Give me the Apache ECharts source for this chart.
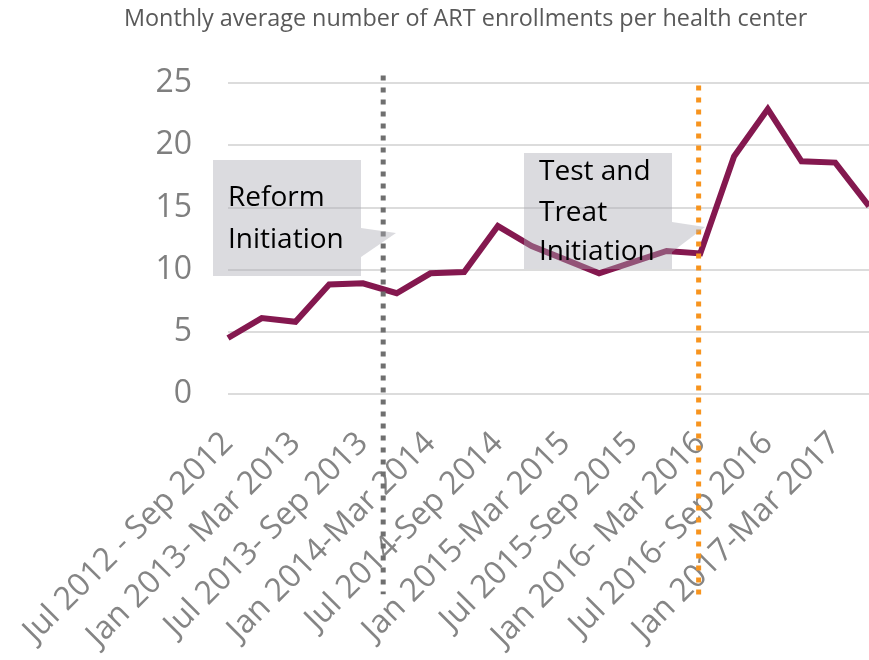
<!DOCTYPE html>
<html>
<head>
<meta charset="utf-8">
<script src="https://cdn.jsdelivr.net/npm/echarts@6/dist/echarts.min.js"></script>
<style>
  html, body { margin: 0; padding: 0; background: #fff; }
  #chart { width: 869px; height: 660px; }
</style>
</head>
<body>
<div id="chart"></div>
<script>
// quarterly periods, only every other one is labelled on the axis
const quarters = [
  'Jul 2012 - Sep 2012', 'Oct 2012 - Dec 2012',
  'Jan 2013- Mar 2013', 'Apr 2013 - Jun 2013',
  'Jul 2013- Sep 2013', 'Oct 2013 - Dec 2013',
  'Jan 2014-Mar 2014', 'Apr 2014 - Jun 2014',
  'Jul 2014-Sep 2014', 'Oct 2014 - Dec 2014',
  'Jan 2015-Mar 2015', 'Apr 2015 - Jun 2015',
  'Jul 2015-Sep 2015', 'Oct 2015 - Dec 2015',
  'Jan 2016- Mar 2016', 'Apr 2016 - Jun 2016',
  'Jul 2016- Sep 2016', 'Oct 2016 - Dec 2016',
  'Jan 2017-Mar 2017', 'Apr 2017 - Jun 2017'
]
const enrollments = [4.5, 6.1, 5.8, 8.8, 8.9, 8.1, 9.7, 9.8, 13.5, 11.9,
  10.8, 9.7, 10.6, 11.5, 11.3, 19.1, 22.9, 18.7, 18.6, 15.1]
const yTicks = { min: 0, max: 25, interval: 5 }

// event markers: position in quarter units, and the vertical span of the dotted line
const reformAt = 4.6
const reformSpan = [25.6, -16.1]
const testTreatAt = 13.95
const testTreatSpan = [24.8, -16.5]

const FONT = '"Open Sans", "Noto Sans", sans-serif'

const chart = echarts.init(document.getElementById('chart'))

// grey callout box with a small pointer on its right side
const callout = (x, y, w, h, tip, lines, lineY) => {
  const els = [{
    type: 'polygon',
    z: 100,
    silent: true,
    shape: {
      points: [
        [x, y], [x + w, y], [x + w, tip[1]], [tip[0], tip[2]],
        [x + w, tip[3]], [x + w, y + h], [x, y + h]
      ]
    },
    style: { fill: 'rgba(170, 170, 178, 0.42)' }
  }]
  lines.forEach((t, i) => {
    els.push({
      type: 'text',
      z: 101,
      silent: true,
      x: x + 15,
      y: lineY[i],
      style: {
        text: t,
        font: '28px ' + FONT,
        fill: '#000',
        verticalAlign: 'middle'
      }
    })
  })
  return els
}

const option = {
  animation: false,
  title: {
    text: 'Monthly average number of ART enrollments per health center',
    left: 119,
    top: 3,
    textStyle: {
      fontFamily: FONT,
      fontSize: 23.4,
      fontWeight: 'normal',
      color: '#595959'
    }
  },
  grid: {
    left: 228,
    right: 0,
    top: 83,
    bottom: 266
  },
  xAxis: [{
    type: 'category',
    data: quarters,
    boundaryGap: false,
    axisLine: { show: false },
    axisTick: { show: false },
    axisLabel: {
      interval: 1,
      rotate: 45,
      margin: 44,
      color: '#858585',
      fontFamily: FONT,
      fontSize: 32
    }
  }, {
    type: 'value',
    min: 0,
    max: quarters.length - 1,
    show: false
  }],
  yAxis: {
    type: 'value',
    min: yTicks.min,
    max: yTicks.max,
    interval: yTicks.interval,
    axisLine: { show: false },
    axisTick: { show: false },
    axisLabel: {
      margin: 36,
      color: '#7f7f7f',
      fontFamily: FONT,
      fontSize: 32
    },
    splitLine: { lineStyle: { color: '#dcdcdc', width: 2 } }
  },
  series: [{
    name: 'ART enrollments',
    type: 'line',
    data: enrollments,
    symbol: 'none',
    lineStyle: { color: '#84184f', width: 6, join: 'miter' },
    z: 3
  }, {
    name: 'Reform',
    type: 'line',
    xAxisIndex: 1,
    data: reformSpan.map(v => [reformAt, v]),
    clip: false,
    symbol: 'none',
    silent: true,
    lineStyle: { color: '#6f6f6f', width: 5, type: [5, 7], cap: 'butt' },
    z: 4
  }, {
    name: 'Test and Treat',
    type: 'line',
    xAxisIndex: 1,
    data: testTreatSpan.map(v => [testTreatAt, v]),
    clip: false,
    symbol: 'none',
    silent: true,
    lineStyle: { color: '#f7941e', width: 5, type: [5, 7], cap: 'butt' },
    z: 4
  }],
  graphic: [
    ...callout(213, 160, 148, 116, [396, 228, 233, 257], ['Reform', 'Initiation'], [198, 240]),
    ...callout(524, 153, 148, 116, [705, 222, 227, 252], ['Test and', 'Treat', 'Initiation'], [172, 213, 252])
  ]
}

chart.setOption(option)
</script>
</body>
</html>
